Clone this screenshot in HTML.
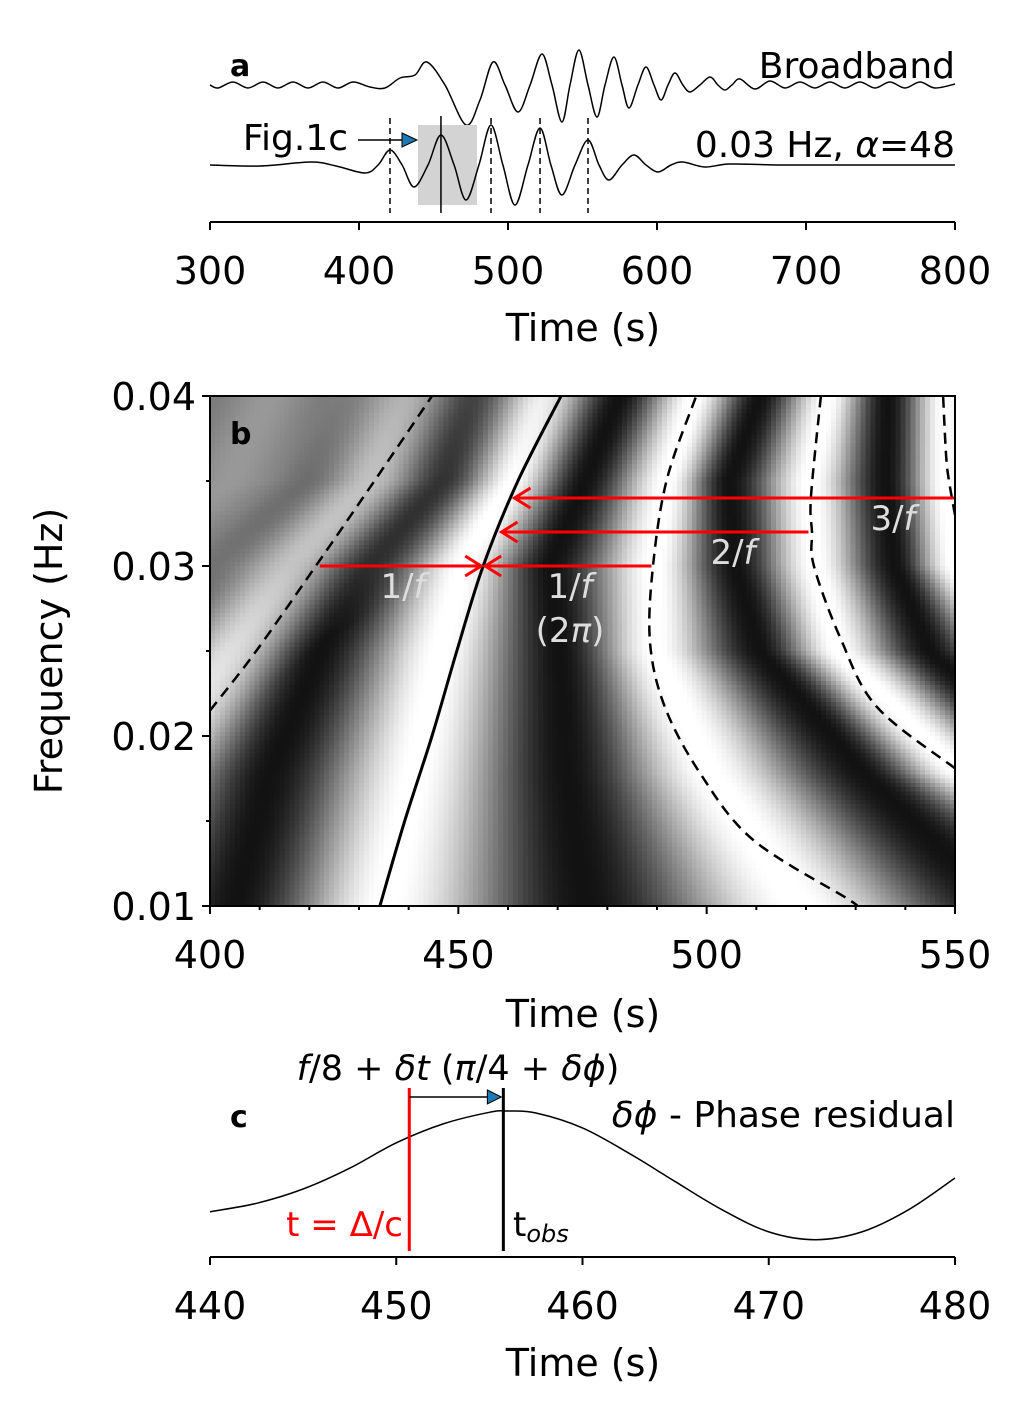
<!DOCTYPE html>
<html><head><meta charset="utf-8">
<style>
html,body{margin:0;padding:0;background:#fff;}
#wrap{position:relative;width:1024px;height:1417px;overflow:hidden;font-family:"DejaVu Sans","Liberation Sans",sans-serif;}
#heat{position:absolute;left:210px;top:396px;width:745px;height:510px;image-rendering:pixelated;}
#svg{position:absolute;left:0;top:0;}
text{font-family:"DejaVu Sans","Liberation Sans",sans-serif;}
</style></head>
<body>
<div id="wrap">
<canvas id="heat" width="150" height="120"></canvas>
<svg id="svg" width="1024" height="1417" xmlns="http://www.w3.org/2000/svg">
<defs>
<clipPath id="clipB"><rect x="210" y="396" width="745" height="510"/></clipPath>
</defs>
<g id="gA"></g>
<g id="gB"></g>
<g id="gC"></g>
</svg>
</div>
<script>
// ---------- Panel a data ----------
const bbTimes=[300,305.4,315.4,325.5,335.6,345.6,355.7,365.8,375.8,385.9,396,407.4,417.4,427.5,437.6,445.6,457.7,471.8,481.2,489.9,498,506.7,514.8,522.8,529.5,536.2,541.6,547.6,553.7,559.7,565.1,571.1,576.5,581.2,587.2,592.6,598,602.7,607.4,612.1,617.4,622.1,628.8,635.6,640.9,645.6,650.3,655.7,665.7,675.8,685.9,696,706,716.1,726.1,736.2,746.3,756.3,766.4,776.5,786.6,800];
const bbValues=[0,-0.3,0.3,-0.3,0.3,-0.3,0.3,-0.3,0.3,-0.3,0.3,-0.2,-0.3,0.7,1.0,2.3,0,-4.0,-1.5,2.3,0,-2.7,0,3.1,0,-3.7,0,3.5,0,-3.2,0,2.8,0,-2.3,0,1.8,0,-1.5,0,1.2,0,-0.7,0,0.8,0,-0.5,0,0.6,-0.4,0.4,-0.3,0.3,-0.3,0.3,-0.3,0.3,-0.3,0.3,-0.3,0.3,-0.3,0.1];
const fTimes=[300,333.6,367.8,384.6,404,412.8,420.8,428.9,436.9,446.3,455,463.8,471.8,480.5,488.6,496.6,504.7,513.4,521.5,528.8,536.2,545,553.7,561.1,567.8,576.5,584.6,592.6,600.7,609.4,617.4,632.2,649,682.5,729.5,800];
const fValues=[0,-0.1,0.3,-0.1,-0.8,0,1.5,0,-2.2,0,3.0,0,-3.5,0,4.0,0,-4.0,0,3.7,0,-3.0,0,2.5,0,-1.5,0,1.0,0,-0.7,0,0.3,-0.2,0.1,0,0,0];
const aTicks=[300,400,500,600,700,800];
const dashedMarks=[420.8,488.6,521.5,553.7];
const solidMark=455;
const boxRange=[439.6,479.2];

// ---------- Panel b data ----------
const freqLevels=[0.01,0.0178,0.025,0.03,0.035,0.04];
// alternating white/dark band centres (W-2,D-2,W-1,D-1,W0,D0,W1,D1,W2,D2,W3), seconds
const bandTimes=[
 [313.4,343.6,373.8,405.0,435.2,475.5,518.8,559.1,599.3,639.6,679.9],
 [337.5,361.7,385.9,412.1,441.3,471.9,500.7,531.9,551.0,571.2,591.3],
 [367.8,385.9,403.0,422.1,446.3,470.5,489.6,510.7,526.4,545.0,561.1],
 [381.9,398.0,415.1,431.2,450.9,468.5,489.6,505.7,521.8,537.9,549.6],
 [404.0,418.1,431.2,446.3,460.4,475.5,492.0,504.5,520.8,536.1,548.0],
 [412.1,424.2,438.3,452.3,466.4,482.5,497.6,510.7,524.4,536.5,548.0]];
const ampOnset=[380,392,420,445,462,476];
const solidF=[0.01,0.015,0.02,0.025,0.03,0.035,0.04];
const solidT=[434.2,439.2,444.7,449.7,455.0,462.0,470.7];
const dashL_F=[0.0215,0.025,0.03,0.035,0.04];
const dashL_T=[400,409.3,421.3,433.1,444.7];
const dashR1_F=[0.01,0.0104,0.0139,0.0178,0.0217,0.0255,0.03,0.0351,0.04];
const dashR1_T=[529.9,528.5,509.3,498.7,491.6,488.6,489.2,492.0,497.9];
const dashR2_F=[0.0181,0.0217,0.0257,0.03,0.032,0.0341,0.04];
const dashR2_T=[550,534.3,527.0,521.6,521.2,521.0,523.0];
const dashR3_F=[0.033,0.035,0.0365,0.04];
const dashR3_T=[550,548.8,548.2,547.6];
const bXTicks=[400,450,500,550];
const bYTicks=[0.01,0.02,0.03,0.04];
const arrowsF=[0.03,0.03,0.032,0.034];
const arrowsFrom=[422.1,488.9,520.5,550];
const arrowsTo=[454.6,455.4,458.7,461.3];

// ---------- Panel c data ----------
const cTimes=[440,442.5,445,447.5,450,452.5,455,456,457.5,460,462.5,465,467.5,470,472.5,475,477.5,480];
const cValues=[-0.55,-0.42,-0.2,0.12,0.51,0.8,0.98,1.0,0.97,0.74,0.35,-0.09,-0.52,-0.86,-0.98,-0.86,-0.52,-0.03];
const cTicks=[440,450,460,470,480];
const tPred=450.7, tObs=455.75;

const NS='http://www.w3.org/2000/svg';
function el(parent,tag,attrs,txt){const e=document.createElementNS(NS,tag);for(const k in attrs)e.setAttribute(k,attrs[k]);if(txt!==undefined)e.textContent=txt;parent.appendChild(e);return e;}
function smooth(pts){let d='M'+pts[0][0].toFixed(1)+','+pts[0][1].toFixed(1);
 for(let i=0;i<pts.length-1;i++){const p0=pts[Math.max(0,i-1)],p1=pts[i],p2=pts[i+1],p3=pts[Math.min(pts.length-1,i+2)];
  const c1=[p1[0]+(p2[0]-p0[0])/6,p1[1]+(p2[1]-p0[1])/6],c2=[p2[0]-(p3[0]-p1[0])/6,p2[1]-(p3[1]-p1[1])/6];
  d+=' C'+c1[0].toFixed(1)+','+c1[1].toFixed(1)+' '+c2[0].toFixed(1)+','+c2[1].toFixed(1)+' '+p2[0].toFixed(1)+','+p2[1].toFixed(1);}
 return d;}

// ===== Panel a =====
const gA=document.getElementById('gA');
const ax=t=>210+(t-300)*745/500;
const bbY=v=>85-10*v, fY=v=>165-10*v;
let p=el(gA,'path',{d:smooth(bbTimes.map((t,i)=>[ax(t),bbY(bbValues[i])])),fill:'none',stroke:'#000','stroke-width':1.5});

let bx=el(gA,'rect',{x:ax(boxRange[0]),y:125,width:ax(boxRange[1])-ax(boxRange[0]),height:80,fill:'#d3d3d3'});

dashedMarks.forEach(t=>{const l=el(gA,'line',{x1:ax(t),x2:ax(t),y1:118,y2:213,stroke:'#000','stroke-width':1.5,'stroke-dasharray':'6,4'});
 });
let sl=el(gA,'line',{x1:ax(solidMark),x2:ax(solidMark),y1:116,y2:213,stroke:'#000','stroke-width':1.5});

p=el(gA,'path',{d:smooth(fTimes.map((t,i)=>[ax(t),fY(fValues[i])])),fill:'none',stroke:'#000','stroke-width':1.5});

let t1=el(gA,'text',{x:230,y:76,'font-size':30,'font-weight':'bold'},'a');
t1=el(gA,'text',{x:955,y:78,'font-size':36,'text-anchor':'end'},'Broadband');
t1=el(gA,'text',{x:955,y:157,'font-size':36,'text-anchor':'end'});t1.innerHTML='0.03 Hz, <tspan font-style="italic">α</tspan>=48';

t1=el(gA,'text',{x:348,y:150,'font-size':36,'text-anchor':'end'},'Fig.1c');
el(gA,'line',{x1:358,x2:404,y1:140,y2:140,stroke:'#000','stroke-width':1.5});
t1=el(gA,'path',{d:'M402,133 L417,140 L402,147 Z',fill:'#1f77b4',stroke:'#000','stroke-width':1});
t1=el(gA,'line',{x1:210,x2:955,y1:222,y2:222,stroke:'#000','stroke-width':2});
aTicks.forEach(v=>{el(gA,'line',{x1:ax(v),x2:ax(v),y1:222,y2:230,stroke:'#000','stroke-width':2});
 const tt=el(gA,'text',{x:ax(v),y:284,'font-size':38,'text-anchor':'middle'},String(v));});
t1=el(gA,'text',{x:583,y:341,'font-size':38,'text-anchor':'middle'},'Time (s)');

// ===== Panel b heatmap =====
const bx0=400,bx1=550,by0=0.01,by1=0.04;
const bxS=t=>210+(t-bx0)*745/(bx1-bx0);
const byS=f=>906-(f-by0)*510/(by1-by0);
function interpRow(f){let i=0;while(i<freqLevels.length-2&&f>freqLevels[i+1])i++;
 const w=Math.max(0,Math.min(1,(f-freqLevels[i])/(freqLevels[i+1]-freqLevels[i])));
 return {bands:bandTimes[i].map((v,k)=>v+(bandTimes[i+1][k]-v)*w),onset:ampOnset[i]+(ampOnset[i+1]-ampOnset[i])*w};}
(function(){const cv=document.getElementById('heat');const ctx=cv.getContext('2d');const W=cv.width,H=cv.height;
 const img=ctx.createImageData(W,H);
 for(let r=0;r<H;r++){const f=by1-(r+0.5)/H*(by1-by0);const row=interpRow(f);const b=row.bands;
  for(let c=0;c<W;c++){const t=bx0+(c+0.5)/W*(bx1-bx0);let ph;
   if(t<=b[0]){ph=(t-b[0])/(b[1]-b[0]);}
   else if(t>=b[b.length-1]){const n=b.length-1;ph=n+(t-b[n])/(b[n]-b[n-1]);}
   else{let k=0;while(t>b[k+1])k++;ph=k+(t-b[k])/(b[k+1]-b[k]);}
   let amp=Math.min(1,Math.max(0.12,0.12+(t-(row.onset-50))/50*0.88));
   const v=0.54+0.47*amp*Math.cos(ph*Math.PI);const g=Math.round(255*Math.max(0,Math.min(1,v)));
   const idx=(r*W+c)*4;img.data[idx]=g;img.data[idx+1]=g;img.data[idx+2]=g;img.data[idx+3]=255;}}
 ctx.putImageData(img,0,0);})();

const gB=document.getElementById('gB');
const clipG=el(gB,'g',{'clip-path':'url(#clipB)'});
function curve(F,T,dash,name){const pts=F.map((f,i)=>[bxS(T[i]),byS(f)]);
 const a={d:smooth(pts),fill:'none',stroke:'#000','stroke-width':dash?2.5:3};if(dash)a['stroke-dasharray']='11,7';
 const e=el(clipG,'path',a);}
curve(solidF,solidT,false,'zero-phase-curve');
curve(dashL_F,dashL_T,true,'phase-curve-minus-1');
curve(dashR1_F,dashR1_T,true,'phase-curve-plus-1');
curve(dashR2_F,dashR2_T,true,'phase-curve-plus-2');
curve(dashR3_F,dashR3_T,true,'phase-curve-plus-3');
arrowsF.forEach((f,i)=>{const y=byS(f),x0=bxS(arrowsFrom[i]),x1=bxS(arrowsTo[i]);const dir=x1>x0?1:-1;
 const g=el(gB,'g',{});
 el(g,'line',{x1:x0,x2:x1,y1:y,y2:y,stroke:'#ff0000','stroke-width':3});
 el(g,'path',{d:`M${x1-dir*16},${y-10} L${x1},${y} L${x1-dir*16},${y+10}`,fill:'none',stroke:'#ff0000','stroke-width':3});});
function lab(x,y,html,name){const e=el(gB,'text',{x:x,y:y,'font-size':34,'text-anchor':'middle',fill:'#dddddd'});e.innerHTML=html;}
lab(403,598,'1/<tspan font-style="italic">f</tspan>','label-1f-left');
lab(570,598,'1/<tspan font-style="italic">f</tspan>','label-1f-right');
lab(570,642,'(2<tspan font-style="italic">π</tspan>)','label-2pi');
lab(733,564,'2/<tspan font-style="italic">f</tspan>','label-2f');
lab(893,530,'3/<tspan font-style="italic">f</tspan>','label-3f');
t1=el(gB,'text',{x:230,y:444,'font-size':30,'font-weight':'bold'},'b');
t1=el(gB,'rect',{x:210,y:396,width:745,height:510,fill:'none',stroke:'#000','stroke-width':2});
for(let t=bx0;t<=bx1;t+=10){const major=bXTicks.includes(t);el(gB,'line',{x1:bxS(t),x2:bxS(t),y1:906,y2:906+(major?8:4),stroke:'#000','stroke-width':2});}
bXTicks.forEach(v=>{const e=el(gB,'text',{x:bxS(v),y:968,'font-size':38,'text-anchor':'middle'},String(v));});
for(let k=0;k<=6;k++){const f=by0+k*0.005;const major=k%2===0;el(gB,'line',{x1:210-(major?8:4),x2:210,y1:byS(f),y2:byS(f),stroke:'#000','stroke-width':2});}
bYTicks.forEach(v=>{const e=el(gB,'text',{x:196,y:byS(v)+14,'font-size':38,'text-anchor':'end'},v.toFixed(2));});
t1=el(gB,'text',{x:583,y:1027,'font-size':38,'text-anchor':'middle'},'Time (s)');
t1=el(gB,'text',{x:62,y:651,'font-size':38,'text-anchor':'middle',transform:'rotate(-90 62 651)'},'Frequency (Hz)');

// ===== Panel c =====
const gC=document.getElementById('gC');
const cx=t=>210+(t-440)*745/40, cy=v=>1176-65*v;
p=el(gC,'path',{d:smooth(cTimes.map((t,i)=>[cx(t),cy(cValues[i])])),fill:'none',stroke:'#000','stroke-width':1.5});

t1=el(gC,'line',{x1:cx(tPred),x2:cx(tPred),y1:1088,y2:1251,stroke:'#ff0000','stroke-width':3});
t1=el(gC,'line',{x1:cx(tObs),x2:cx(tObs),y1:1088,y2:1251,stroke:'#000','stroke-width':3});
el(gC,'line',{x1:cx(tPred),x2:cx(tObs)-12,y1:1097,y2:1097,stroke:'#000','stroke-width':1.5});
t1=el(gC,'path',{d:`M${cx(tObs)-16},${1090} L${cx(tObs)-2},1097 L${cx(tObs)-16},1104 Z`,fill:'#1f77b4',stroke:'#000','stroke-width':1});
t1=el(gC,'text',{x:458,y:1080,'font-size':35,'text-anchor':'middle'});
t1.innerHTML='<tspan font-style="italic">f</tspan>/8 + <tspan font-style="italic">δt</tspan> (<tspan font-style="italic">π</tspan>/4 + <tspan font-style="italic">δϕ</tspan>)';

t1=el(gC,'text',{x:955,y:1127,'font-size':36,'text-anchor':'end'});t1.innerHTML='<tspan font-style="italic">δϕ</tspan> - Phase residual';

t1=el(gC,'text',{x:230,y:1127,'font-size':30,'font-weight':'bold'},'c');
t1=el(gC,'text',{x:403,y:1236,'font-size':34,'text-anchor':'end',fill:'#ff0000'},'t = Δ/c');
t1=el(gC,'text',{x:513,y:1236,'font-size':34});t1.innerHTML='t<tspan font-size="24" font-style="italic" dy="6">obs</tspan>';

t1=el(gC,'line',{x1:210,x2:955,y1:1257,y2:1257,stroke:'#000','stroke-width':2});
cTicks.forEach(v=>{el(gC,'line',{x1:cx(v),x2:cx(v),y1:1257,y2:1265,stroke:'#000','stroke-width':2});
 const e=el(gC,'text',{x:cx(v),y:1319,'font-size':38,'text-anchor':'middle'},String(v));});
t1=el(gC,'text',{x:583,y:1376,'font-size':38,'text-anchor':'middle'},'Time (s)');
</script>
</body></html>
